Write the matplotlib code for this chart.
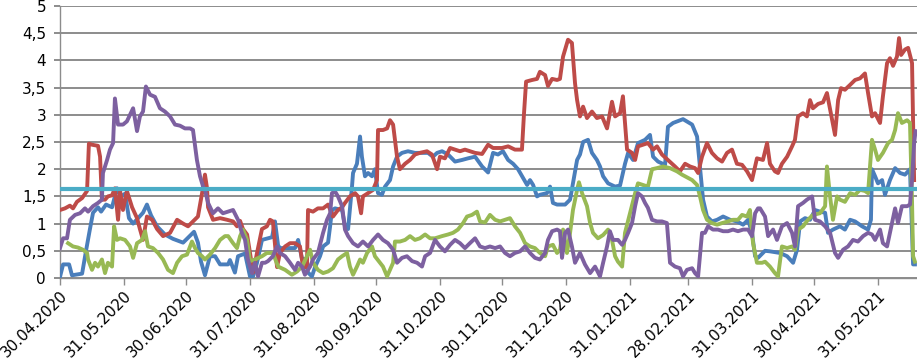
import matplotlib
matplotlib.use("Agg")
import matplotlib.pyplot as plt
from datetime import date

plt.rcParams['font.family'] = ['DejaVu Sans']

start = date(2020, 4, 30)
end_day = 415

tick_dates = [date(2020, 4, 30), date(2020, 5, 31), date(2020, 6, 30), date(2020, 7, 31),
              date(2020, 8, 31), date(2020, 9, 30), date(2020, 10, 31), date(2020, 11, 30),
              date(2020, 12, 31), date(2021, 1, 31), date(2021, 2, 28), date(2021, 3, 31),
              date(2021, 4, 30), date(2021, 5, 31)]
tick_labels = [d.strftime("%d.%m.%Y") for d in tick_dates]

level = 1.63

blue_days = [0, 1.5, 4.4, 5.8, 10.7, 12.6, 14.5, 16, 18.4, 19.9, 22.3, 25.2, 27.6, 29.5, 31.5, 33.4, 35.4, 37.8, 40.2, 42.1, 44.1, 47, 50.8, 54.7, 59.6, 63, 64.9, 66.8, 68.3, 70.2, 72.6, 75.1, 77.5, 81.4, 82.3, 84.7, 86.2, 89.6, 92, 93.5, 95.4, 97.8, 102.7, 104.1, 105.6, 106.5, 110.4, 113.8, 115.3, 117.2, 118.6, 120.1, 122, 123.5, 125.9, 127.4, 129.8, 130.8, 131.7, 133.2, 136.6, 138, 139.5, 141.4, 141.9, 143.8, 145.3, 146.2, 147.7, 149.2, 151.1, 152.5, 154, 155.9, 157.4, 159.8, 161.3, 163.2, 165.6, 168.5, 171.9, 175.3, 178.2, 180.6, 182.6, 185, 187.9, 191.3, 194.7, 197.6, 201, 204.4, 207.3, 209.7, 212.1, 214.5, 217, 219.4, 221.8, 224.2, 226.2, 227.6, 229.1, 231, 232.4, 235.8, 237.3, 238.7, 240.7, 244.6, 247, 248.4, 250.4, 251.8, 253.3, 255.7, 257.6, 260, 261.5, 263, 265.4, 268.8, 271.2, 273.6, 275.1, 277.5, 279.9, 283.3, 285.7, 287.2, 289.6, 293, 294.4, 296.9, 301.7, 306.1, 308.5, 309.9, 311.4, 313.3, 315.7, 318.2, 321.1, 324.5, 327.8, 330.8, 333.2, 335.1, 336.6, 338, 341.4, 343.8, 348.7, 352.1, 355, 356.9, 358.4, 360.8, 363.2, 365.6, 368, 370.5, 371.9, 374.3, 377.7, 380.1, 382.6, 385, 388.4, 391.3, 392.7, 393.2, 394.7, 396.1, 398.1, 399.5, 401.9, 404.4, 406.8, 409.2, 411.6, 413.1, 414]
blue_vals = [0.02, 0.25, 0.25, 0.05, 0.08, 0.5, 0.9, 1.2, 1.3, 1.22, 1.35, 1.3, 1.65, 1.5, 1.55, 1.1, 1.0, 1.1, 1.2, 1.35, 1.15, 0.95, 0.8, 0.72, 0.65, 0.78, 0.85, 0.65, 0.3, 0.05, 0.4, 0.4, 0.25, 0.25, 0.33, 0.1, 0.4, 0.45, 0.03, 0.03, 0.28, 0.7, 0.75, 1.04, 0.6, 0.55, 0.55, 0.55, 0.7, 0.35, 0.35, 0.1, 0.03, 0.2, 0.4, 0.58, 0.65, 0.95, 1.25, 1.28, 1.25, 0.95, 0.9, 1.68, 1.93, 2.1, 2.6, 2.23, 1.87, 1.93, 1.87, 2.0, 1.56, 1.53, 1.68, 1.8, 2.05, 2.23, 2.3, 2.33, 2.3, 2.3, 2.3, 2.23, 2.3, 2.33, 2.27, 2.14, 2.17, 2.2, 2.23, 2.05, 1.94, 2.3, 2.27, 2.33, 2.17, 2.1, 2.0, 1.84, 1.71, 1.8, 1.71, 1.5, 1.53, 1.56, 1.68, 1.38, 1.35, 1.35, 1.44, 1.74, 2.17, 2.27, 2.5, 2.54, 2.3, 2.17, 2.05, 1.87, 1.74, 1.68, 1.7, 2.1, 2.3, 2.17, 2.48, 2.54, 2.63, 2.23, 2.14, 2.08, 2.78, 2.85, 2.92, 2.82, 2.6, 2.05, 1.44, 1.13, 1.04, 1.07, 1.13, 1.07, 1.04, 0.98, 1.07, 0.83, 0.4, 0.37, 0.5, 0.49, 0.46, 0.4, 0.28, 0.52, 1.04, 1.1, 1.07, 1.25, 1.22, 1.2, 0.83, 0.89, 0.95, 0.89, 1.07, 1.04, 0.95, 0.89, 1.07, 2.0, 1.87, 1.74, 1.8, 1.53, 1.8, 2.02, 1.93, 1.9, 2.0, 0.25, 0.25]

red_days = [0, 2.4, 4.8, 6.3, 8.2, 10.7, 13.1, 14, 15.5, 18.4, 19.4, 20.3, 21.8, 23.2, 25.2, 26.6, 28.1, 29.1, 30.5, 32.4, 34.9, 37.3, 38.7, 40.2, 42.1, 44.6, 47, 49.9, 53.3, 56.7, 59.6, 62, 64.4, 66.8, 68.8, 70.2, 71.2, 71.7, 74.1, 77.5, 80.9, 83.8, 85.7, 87.2, 88.6, 90.6, 92, 93.5, 95.4, 97.8, 100.2, 101.7, 103.1, 105.1, 106.5, 109, 111.4, 113.8, 116.2, 117.7, 119.6, 120.1, 122.5, 124.9, 127.4, 129.8, 132.2, 134.6, 136.6, 138, 140.4, 142.9, 144.3, 145.8, 146.7, 149.2, 151.6, 153.5, 154, 156.4, 158.4, 159.8, 161.3, 163.2, 164.6, 167.1, 169.5, 171.9, 174.3, 177.7, 180.1, 182.6, 184, 186.4, 188.9, 191.3, 193.7, 196.1, 198.5, 201, 204.4, 207.3, 209.7, 214, 217, 220.3, 223.7, 224.7, 225.7, 228.6, 231, 232.4, 234.9, 236.3, 238.3, 240.7, 242.1, 243.6, 246, 247.9, 249.4, 250.4, 251.8, 253.3, 255.2, 257.6, 260, 262.5, 264.9, 267.3, 268.8, 271.2, 272.6, 274.6, 277, 278.5, 279.9, 282.3, 284.7, 287.2, 289.1, 291.5, 294.4, 297.8, 300.2, 302.7, 305.1, 307.5, 309, 310.9, 313.3, 315.7, 318.2, 320.6, 323, 325.4, 327.8, 330.3, 332.7, 335.1, 337.5, 340.4, 342.4, 343.8, 346.2, 347.7, 349.6, 352.1, 354.5, 355.9, 357.4, 359.8, 361.7, 363.2, 364.6, 367.1, 369.5, 371.4, 372.9, 375.3, 376.8, 378.2, 380.1, 382.6, 385, 387.4, 389.8, 391.3, 393.2, 394.7, 397.1, 398.5, 400.5, 401.9, 403.4, 405.3, 406.3, 407.3, 409.2, 410.7, 412.6, 413.6]
red_vals = [1.25, 1.28, 1.33, 1.28, 1.4, 1.47, 1.6, 2.47, 2.45, 2.43, 2.23, 1.44, 1.44, 1.5, 1.52, 1.65, 1.07, 1.6, 1.25, 1.6, 1.3, 1.1, 0.9, 0.7, 1.13, 1.07, 0.9, 0.77, 0.83, 1.07, 1.0, 0.95, 1.04, 1.13, 1.56, 1.9, 1.65, 1.3, 1.07, 1.1, 1.07, 1.04, 0.95, 1.05, 0.9, 0.8, 0.46, 0.1, 0.46, 0.9, 0.95, 1.07, 1.04, 0.2, 0.46, 0.58, 0.64, 0.64, 0.58, 0.2, 0.2, 1.25, 1.22, 1.28, 1.28, 1.35, 1.13, 1.25, 1.3, 1.38, 1.5, 1.56, 1.5, 1.19, 1.5, 1.56, 1.62, 1.8, 2.72, 2.72, 2.75, 2.9, 2.82, 2.23, 2.0, 2.1, 2.17, 2.27, 2.3, 2.33, 2.27, 2.0, 2.23, 2.2, 2.39, 2.36, 2.33, 2.36, 2.33, 2.3, 2.28, 2.45, 2.39, 2.39, 2.42, 2.36, 2.36, 3.03, 3.61, 3.64, 3.66, 3.79, 3.73, 3.53, 3.66, 3.64, 3.66, 4.07, 4.38, 4.32, 3.58, 3.27, 2.97, 3.15, 2.94, 3.06, 2.94, 2.97, 2.75, 3.24, 2.97, 3.03, 3.34, 2.36, 2.3, 2.17, 2.42, 2.45, 2.48, 2.36, 2.42, 2.27, 2.17, 2.05, 1.96, 2.1, 2.05, 2.02, 1.93, 2.23, 2.48, 2.3, 2.2, 2.14, 2.3, 2.36, 2.1, 2.08, 1.96, 1.8, 2.2, 2.17, 2.48, 2.1, 1.96, 1.93, 2.1, 2.23, 2.42, 2.54, 2.97, 3.03, 2.97, 3.27, 3.12, 3.2, 3.23, 3.4, 3.1, 2.63, 3.27, 3.49, 3.46, 3.55, 3.64, 3.67, 3.76, 3.4, 2.97, 3.03, 2.85, 3.34, 3.95, 4.04, 3.9, 4.07, 4.41, 4.1, 4.2, 4.23, 3.95, 1.8]

green_days = [3.9, 6.3, 8.7, 11.1, 13.1, 13.6, 15.5, 17, 18.4, 20.3, 21.8, 23.2, 25.2, 26.2, 27.6, 29.1, 31.5, 33.9, 35.4, 37.3, 39.7, 41.2, 42.6, 45, 47.5, 49.9, 52.3, 54.7, 56.7, 59.1, 61.5, 63.9, 65.4, 66.8, 68.8, 70.2, 72.6, 75.1, 77.5, 79.9, 81.4, 83.8, 85.7, 87.2, 88.6, 90.6, 92, 94.4, 97.8, 100.2, 103.1, 105.6, 109, 112.3, 114.8, 117.2, 119.6, 121.1, 122.5, 124.9, 127.4, 129.8, 132.2, 134.6, 136.6, 139, 140.4, 141.9, 143.8, 145.3, 146.7, 148.7, 151.1, 152.5, 155, 156.4, 158.4, 159.8, 161.3, 162.2, 164.6, 167.1, 169.5, 171.9, 174.3, 176.8, 179.2, 181.6, 185, 187.9, 190.3, 192.7, 195.2, 197.1, 199.5, 201.9, 203.4, 205.8, 208.2, 210.7, 213.1, 215.5, 217.9, 220.3, 222.8, 225.2, 227.6, 230, 232.4, 234.9, 236.3, 238.7, 240.7, 242.1, 243.6, 245.5, 247, 248.4, 250.4, 251.3, 252.8, 255.2, 256.7, 258.1, 260.5, 263, 265.4, 267.3, 268.8, 270.2, 272.2, 273.6, 276, 278.5, 279.9, 282.3, 284.7, 286.7, 289.1, 292, 295.4, 298.8, 301.2, 303.6, 306.1, 308.5, 309.9, 311.4, 313.3, 315.7, 318.2, 320.6, 323.5, 325.9, 328.3, 330.3, 332.7, 334.1, 335.6, 337.5, 340, 341.4, 343.8, 346.2, 347.7, 349.6, 352.1, 354.5, 355.9, 357.4, 359.8, 362.2, 364.6, 368, 370.5, 371.4, 372.9, 374.3, 376.3, 377.7, 380.1, 382.6, 385, 387.4, 389.8, 391.3, 393.2, 394.7, 396.1, 398.5, 401, 402.9, 404.4, 405.8, 407.7, 410.2, 411.6, 412.6, 413.1, 414]
green_vals = [0.64, 0.58, 0.56, 0.52, 0.46, 0.34, 0.15, 0.28, 0.21, 0.34, 0.09, 0.28, 0.21, 0.95, 0.7, 0.73, 0.7, 0.58, 0.37, 0.64, 0.7, 0.86, 0.58, 0.55, 0.46, 0.34, 0.15, 0.09, 0.28, 0.4, 0.43, 0.67, 0.55, 0.46, 0.4, 0.34, 0.43, 0.55, 0.7, 0.77, 0.77, 0.64, 0.55, 0.77, 0.89, 0.7, 0.31, 0.34, 0.4, 0.46, 0.46, 0.21, 0.15, 0.06, 0.12, 0.21, 0.4, 0.52, 0.28, 0.15, 0.09, 0.12, 0.18, 0.34, 0.4, 0.46, 0.21, 0.06, 0.21, 0.34, 0.28, 0.46, 0.58, 0.4, 0.28, 0.21, 0.03, 0.15, 0.28, 0.67, 0.67, 0.7, 0.77, 0.7, 0.73, 0.8, 0.73, 0.73, 0.77, 0.8, 0.83, 0.89, 1.01, 1.13, 1.16, 1.22, 1.04, 1.02, 1.16, 1.07, 1.04, 1.07, 1.1, 0.95, 0.83, 0.64, 0.58, 0.55, 0.46, 0.4, 0.58, 0.61, 0.46, 0.52, 0.89, 0.46, 0.83, 1.25, 1.62, 1.76, 1.56, 1.32, 1.01, 0.83, 0.73, 0.79, 0.89, 0.7, 0.4, 0.3, 0.21, 0.83, 1.19, 1.56, 1.74, 1.71, 1.68, 2.0, 2.02, 2.05, 2.02, 1.96, 1.9, 1.85, 1.8, 1.71, 1.5, 1.25, 1.07, 1.01, 0.98, 1.01, 1.04, 1.07, 1.07, 1.16, 1.13, 1.25, 0.64, 0.28, 0.28, 0.3, 0.21, 0.09, 0.03, 0.58, 0.55, 0.58, 0.52, 0.89, 0.95, 1.07, 1.16, 1.19, 1.32, 2.05, 1.5, 1.07, 1.5, 1.44, 1.4, 1.56, 1.53, 1.62, 1.6, 1.56, 2.54, 2.36, 2.17, 2.3, 2.48, 2.54, 2.72, 3.03, 2.85, 2.9, 2.85, 1.4, 0.4, 0.3]

purple_days = [0, 1.5, 3.4, 4.8, 7.3, 9.7, 12.1, 13.6, 16, 18.4, 20.3, 20.8, 22.8, 24.2, 25.7, 26.6, 28.1, 30.5, 32.4, 33.9, 35.4, 37.3, 38.7, 40.2, 41.6, 43.6, 46, 48.4, 50.8, 53.3, 55.7, 58.1, 60.5, 63, 64.4, 66.3, 67.8, 69.3, 70.2, 71.7, 74.1, 76.5, 78.9, 81.4, 83.8, 86.2, 88.1, 89.6, 91, 93, 94.4, 95.9, 97.8, 99.3, 100.7, 103.1, 105.1, 106.5, 109, 111.4, 113.8, 115.3, 117.2, 118.6, 121.1, 122.5, 124.9, 127.4, 129.3, 130.8, 131.7, 133.2, 134.6, 136.6, 138, 139.5, 141.9, 144.3, 146.7, 149.2, 151.6, 154, 156.4, 158.8, 161.3, 163.2, 165.6, 168, 170.5, 172.9, 175.3, 176.8, 179.2, 181.6, 184, 186.4, 188.9, 191.3, 193.7, 196.1, 198.5, 201, 203.4, 205.8, 208.2, 210.7, 213.1, 215.5, 217.9, 220.3, 222.8, 225.2, 227.6, 230, 232.4, 234.9, 236.3, 238.3, 240.7, 242.1, 243.1, 244.6, 246, 247.9, 249.4, 251.8, 254.2, 256.7, 259.1, 261.5, 263, 264.9, 266.3, 267.8, 270.2, 272.2, 273.6, 275.1, 277, 278.5, 279.9, 281.8, 283.3, 284.7, 286.7, 289.1, 291.5, 293.9, 295.4, 297.8, 300.2, 301.7, 303.6, 306.1, 307.5, 309, 310.9, 312.3, 313.8, 316.2, 318.6, 321.1, 323.5, 325.9, 328.3, 330.8, 333.2, 335.1, 336.6, 338, 339, 341.4, 342.9, 345.3, 347.2, 349.6, 352.1, 354.5, 355.9, 357.4, 359.8, 361.7, 364.2, 365.6, 368, 370.5, 372.9, 375.3, 376.8, 379.2, 381.6, 384, 386.4, 388.9, 391.3, 393.2, 394.7, 397.1, 398.5, 400.5, 401.9, 404.4, 405.8, 407.7, 410.2, 411.6, 412.6, 413.6, 414.3]
purple_vals = [0.55, 0.73, 0.73, 1.07, 1.16, 1.19, 1.28, 1.22, 1.32, 1.38, 1.44, 1.93, 2.17, 2.36, 2.48, 3.3, 2.82, 2.82, 2.88, 3.0, 3.12, 2.7, 2.97, 3.06, 3.52, 3.37, 3.33, 3.12, 3.06, 2.97, 2.82, 2.8, 2.75, 2.75, 2.72, 2.17, 1.87, 1.68, 1.62, 1.38, 1.19, 1.28, 1.19, 1.22, 1.25, 1.07, 0.83, 0.7, 0.34, 0.09, 0.28, 0.03, 0.28, 0.28, 0.31, 0.4, 0.58, 0.46, 0.4, 0.28, 0.15, 0.28, 0.21, 0.06, 0.21, 0.34, 0.46, 0.83, 1.07, 1.19, 1.56, 1.59, 1.5, 1.32, 0.89, 0.77, 0.64, 0.58, 0.67, 0.58, 0.7, 0.8, 0.7, 0.64, 0.52, 0.28, 0.37, 0.4, 0.31, 0.28, 0.21, 0.4, 0.46, 0.7, 0.58, 0.49, 0.61, 0.7, 0.64, 0.55, 0.64, 0.73, 0.58, 0.55, 0.58, 0.55, 0.58, 0.46, 0.4, 0.46, 0.49, 0.58, 0.46, 0.37, 0.34, 0.46, 0.7, 0.86, 0.89, 0.86, 0.37, 0.83, 0.89, 0.58, 0.28, 0.46, 0.25, 0.09, 0.21, 0.03, 0.28, 0.58, 0.86, 0.7, 0.7, 0.61, 0.7, 0.83, 1.01, 1.32, 1.56, 1.5, 1.38, 1.29, 1.07, 1.04, 1.04, 1.01, 0.28, 0.21, 0.18, 0.03, 0.15, 0.18, 0.09, 0.03, 0.83, 0.83, 0.95, 0.89, 0.89, 0.86, 0.86, 0.89, 0.86, 0.89, 0.89, 0.77, 1.19, 1.28, 1.28, 1.13, 0.77, 0.89, 0.7, 0.95, 1.01, 0.83, 0.58, 1.32, 1.38, 1.44, 1.5, 1.07, 1.04, 0.95, 0.83, 0.46, 0.37, 0.52, 0.58, 0.7, 0.67, 0.77, 0.83, 0.8, 0.7, 0.89, 0.64, 0.58, 0.83, 1.28, 1.01, 1.32, 1.32, 1.35, 1.8, 2.48, 2.7]

fig = plt.figure(figsize=(9.17, 3.58), dpi=100)
ax = fig.add_axes([60 / 917, 1 - 278 / 358, 1 - 60 / 917, 272 / 358])

lw = 2.8
ax.plot(blue_days, blue_vals, color='#4A7EBB', lw=lw, solid_joinstyle='round', zorder=3)
ax.plot(red_days, red_vals, color='#BE4B48', lw=lw, solid_joinstyle='round', zorder=4)
ax.plot(green_days, green_vals, color='#98B954', lw=lw, solid_joinstyle='round', zorder=5)
ax.plot(purple_days, purple_vals, color='#7D60A0', lw=lw, solid_joinstyle='round', zorder=6)
ax.axhline(level, color='#4BACC6', lw=3.0, zorder=7)

ax.set_xlim(0, end_day)
ax.set_ylim(0, 5)
yt = [i * 0.5 for i in range(11)]
ax.set_yticks(yt)
ax.set_yticklabels([("%g" % v).replace('.', ',') for v in yt])
ax.set_xticks([(d - start).days for d in tick_dates])
ax.set_xticklabels(tick_labels, rotation=45, ha='right', rotation_mode='anchor')

ax.yaxis.grid(True, color='#8C8C8C', lw=1.4, zorder=0)
ax.set_axisbelow(True)
for s in ['top', 'right']:
    ax.spines[s].set_visible(False)
for s in ['left', 'bottom']:
    ax.spines[s].set_color('#8C8C8C')
    ax.spines[s].set_linewidth(1.0)
ax.tick_params(axis='y', length=4, width=1.4, color='#8C8C8C', pad=6, labelsize=11, labelcolor='#000000')
ax.tick_params(axis='x', length=5, width=1, color='#8C8C8C', pad=2, labelsize=11)

fig.savefig('out.png', dpi=100)
